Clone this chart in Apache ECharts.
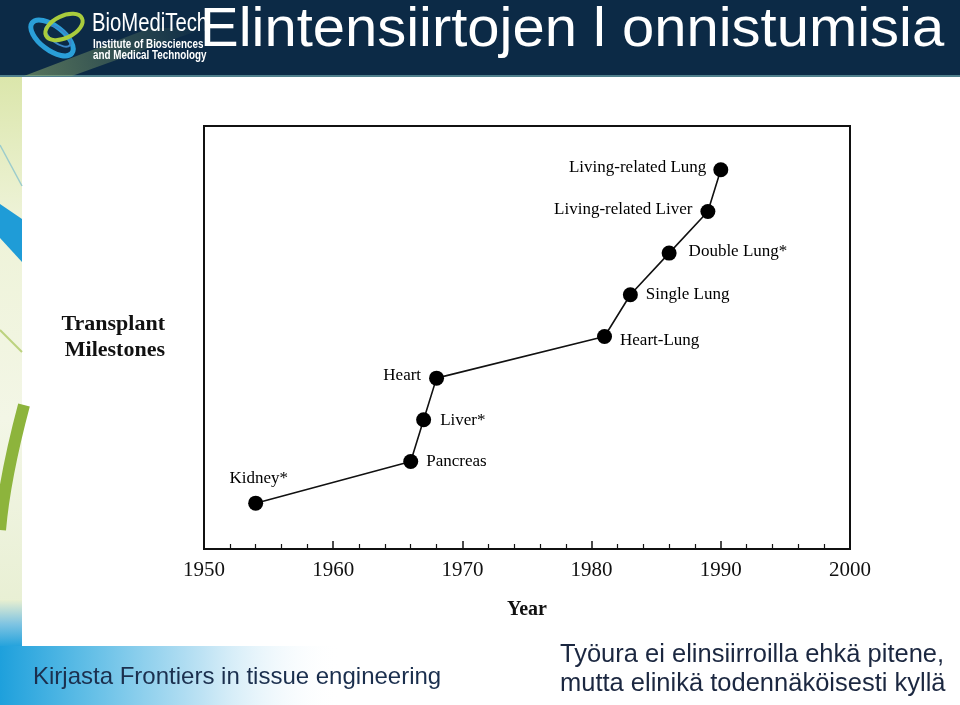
<!DOCTYPE html>
<html><head><meta charset="utf-8">
<script src="https://cdn.jsdelivr.net/npm/echarts@6/dist/echarts.min.js"></script>
<style>html,body{margin:0;padding:0;background:#fff}#c{width:960px;height:705px}</style>
</head><body><div id="c"></div>
<script>
// ---- data ----
const years = [1954, 1966, 1967, 1968, 1981, 1983, 1986, 1989, 1990];
const milestoneRank = [1, 2, 3, 4, 5, 6, 7, 8, 9];
const organNames = ['Kidney*', 'Pancreas', 'Liver*', 'Heart', 'Heart-Lung', 'Single Lung', 'Double Lung*', 'Living-related Liver', 'Living-related Lung'];
const xTickYears = [1950, 1960, 1970, 1980, 1990, 2000];

// ---- label placement (style) ----
const labelPlacement = [
  ['top', 9, [3, 0]], ['right', 8, [0, 0]], ['right', 9, [0, 1]], ['left', 8, [0, -3]],
  ['right', 8, [0, 4]], ['right', 8, [0, 0]], ['right', 12, [0, -2]], ['left', 8, [0, -2]], ['left', 7, [0, -2]]
];

const serif = "'Liberation Serif', 'DejaVu Serif', serif";
const sans = "'Liberation Sans', Arial, sans-serif";

const chart = echarts.init(document.getElementById('c'), null, {renderer: 'canvas'});

const seriesData = years.map((yr, i) => ({
  value: [yr, milestoneRank[i]],
  label: {
    show: true,
    position: labelPlacement[i][0],
    distance: labelPlacement[i][1],
    offset: labelPlacement[i][2],
    formatter: organNames[i]
  }
}));

function txt(x, y, text, font, fill, extra) {
  return Object.assign({
    type: 'text', x: x, y: y, z: 20,
    style: {text: text, font: font, fill: fill, verticalAlign: 'middle', textVerticalAlign: 'middle', align: 'left', textAlign: 'left'}
  }, extra || {});
}

const graphics = [
  // header band
  {type: 'rect', z: 1, shape: {x: 0, y: 0, width: 960, height: 76}, style: {fill: '#0c2a46'}},
  {type: 'rect', z: 2, shape: {x: 0, y: 75, width: 960, height: 2}, style: {fill: '#4f7f8c'}},
  // light beam under logo
  {type: 'polygon', z: 2, shape: {points: [[24, 76], [72, 76], [205, 28], [150, 28]]},
   style: {fill: new echarts.graphic.LinearGradient(0, 1, 1, 0, [
     {offset: 0, color: 'rgba(150,180,110,0.55)'}, {offset: 1, color: 'rgba(150,180,110,0)'}])}},
  // logo rings
  {type: 'ellipse', z: 3, x: 52, y: 38, rotation: -0.65, shape: {cx: 0, cy: 0, rx: 25, ry: 12},
   style: {fill: 'none', stroke: '#2a9fd8', lineWidth: 5}},
  {type: 'ellipse', z: 3, x: 58, y: 36, rotation: -0.65, shape: {cx: 0, cy: 0, rx: 15, ry: 7},
   style: {fill: 'none', stroke: '#3b86c8', lineWidth: 2}},
  {type: 'ellipse', z: 4, x: 64, y: 27, rotation: 0.45, shape: {cx: 0, cy: 0, rx: 20, ry: 11},
   style: {fill: 'none', stroke: '#a9cc3d', lineWidth: 4}},
  txt(92, 24, 'BioMediTech', '26px ' + sans, '#ffffff', {scaleX: 0.78, z: 5}),
  txt(93, 45, 'Institute of Biosciences', 'bold 12px ' + sans, '#ffffff', {scaleX: 0.82, z: 5}),
  txt(93, 56, 'and Medical Technology', 'bold 12px ' + sans, '#ffffff', {scaleX: 0.82, z: 5}),
  // title
  txt(200, 31, 'Elintensiirtojen l onnistumisia', '56px ' + sans, '#ffffff', {z: 6, scaleX: 1.035}),
  // left decorative strip
  {type: 'rect', z: 1, shape: {x: 0, y: 77, width: 22, height: 570},
   style: {fill: new echarts.graphic.LinearGradient(0, 0, 0, 1, [
     {offset: 0, color: '#dbe6ab'}, {offset: 0.25, color: '#eef3d8'}, {offset: 0.6, color: '#f3f6e6'}, {offset: 1, color: '#e6eed0'}])}},
  {type: 'line', z: 2, shape: {x1: 0, y1: 145, x2: 22, y2: 186}, style: {stroke: '#9ccccc', lineWidth: 1.5}},
  {type: 'polygon', z: 2, shape: {points: [[0, 204], [22, 219], [22, 262], [0, 238]]}, style: {fill: '#1f9cd7'}},
  {type: 'line', z: 2, shape: {x1: 0, y1: 330, x2: 22, y2: 352}, style: {stroke: '#bcd27f', lineWidth: 2}},
  {type: 'bezierCurve', z: 2, shape: {x1: 24, y1: 405, x2: 0, y2: 530, cpx1: 12, cpy1: 450, cpx2: 3, cpy2: 495},
   style: {stroke: '#8db43c', lineWidth: 12, fill: 'none'}},
  {type: 'rect', z: 1, shape: {x: 0, y: 600, width: 22, height: 48},
   style: {fill: new echarts.graphic.LinearGradient(0, 0, 0, 1, [
     {offset: 0, color: '#e8efd0'}, {offset: 0.5, color: '#7fc4e2'}, {offset: 1, color: '#1ea0dc'}])}},
  // bottom band
  {type: 'rect', z: 1, shape: {x: 0, y: 646, width: 340, height: 59},
   style: {fill: new echarts.graphic.LinearGradient(0, 0, 1, 0, [
     {offset: 0, color: '#1ea0dc'}, {offset: 0.25, color: '#5fbde6'}, {offset: 0.6, color: '#bfe3f4'}, {offset: 1, color: 'rgba(255,255,255,0)'}])}},
  // bottom texts
  txt(33, 677, 'Kirjasta Frontiers in tissue engineering', '24px ' + sans, '#1b2f4e'),
  txt(560, 655, 'Työura ei elinsiirroilla ehkä pitene,', '25px ' + sans, '#1b2740', {scaleX: 1.02}),
  txt(560, 684, 'mutta elinikä todennäköisesti kyllä', '25px ' + sans, '#1b2740', {scaleX: 1.02})
];

chart.setOption({
  animation: false,
  backgroundColor: '#ffffff',
  grid: {left: 204, right: 110, top: 126, bottom: 156, show: true, borderColor: '#111', borderWidth: 2, backgroundColor: 'transparent'},
  xAxis: {
    type: 'value',
    min: xTickYears[0], max: xTickYears[xTickYears.length - 1], interval: xTickYears[1] - xTickYears[0],
    axisLine: {show: true, onZero: false, lineStyle: {color: '#111', width: 2}},
    axisTick: {show: true, inside: true, length: 8, lineStyle: {color: '#111', width: 1.5}},
    minorTick: {show: true, splitNumber: 5, length: 5, lineStyle: {color: '#111', width: 1.2}},
    splitLine: {show: false},
    axisLabel: {margin: 11, fontFamily: serif, fontSize: 21, color: '#111', formatter: v => String(v)},
    name: 'Year', nameLocation: 'middle', nameGap: 51,
    nameTextStyle: {fontFamily: serif, fontWeight: 'bold', fontSize: 20, color: '#111'}
  },
  yAxis: {
    type: 'value', min: -0.1, max: 10.05,
    axisLine: {show: true, onZero: false, lineStyle: {color: '#111', width: 2}},
    axisTick: {show: false}, axisLabel: {show: false}, splitLine: {show: false},
    name: 'Transplant\nMilestones', nameLocation: 'middle', nameRotate: 0, nameGap: 39,
    nameTextStyle: {fontFamily: serif, fontWeight: 'bold', fontSize: 22, color: '#111', lineHeight: 26, align: 'right', padding: [0, 0, 22, 0]}
  },
  series: [{
    type: 'line',
    data: seriesData,
    symbol: 'circle', symbolSize: 15,
    itemStyle: {color: '#000'},
    lineStyle: {color: '#111', width: 1.6},
    label: {fontFamily: serif, fontSize: 17, color: '#000'},
    z: 5
  }],
  graphic: graphics
});
</script></body></html>
